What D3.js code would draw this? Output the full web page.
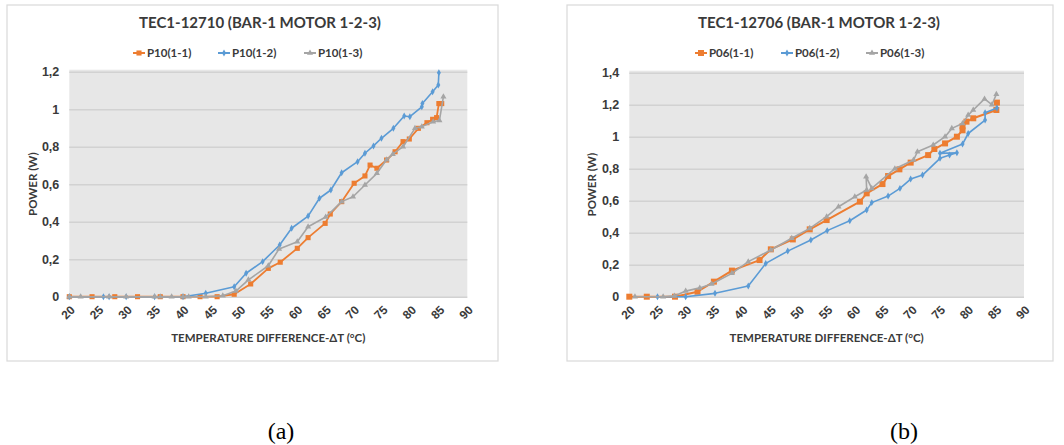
<!DOCTYPE html>
<html>
<head>
<meta charset="utf-8">
<script src="https://cdn.jsdelivr.net/npm/d3@7"></script>
<style>
  body { margin: 0; background: #fff; }
  svg { display: block; font-family: Lato, "Open Sans", sans-serif; }
</style>
</head>
<body>
<script>
// axis ticks
const xTicks = [20, 25, 30, 35, 40, 45, 50, 55, 60, 65, 70, 75, 80, 85, 90];
const yTicksA = [0, 0.2, 0.4, 0.6, 0.8, 1, 1.2];
const yTicksB = [0, 0.2, 0.4, 0.6, 0.8, 1, 1.2, 1.4];

const namesA = ['P10(1-1)', 'P10(1-2)', 'P10(1-3)'];
const namesB = ['P06(1-1)', 'P06(1-2)', 'P06(1-3)'];

// TEC1-12710, [deltaT, power]
const p10_11 = [[20,0],[24,0],[28,0],[32,0],[36,0],[40,0],[43,0],[46,0],[49,0.013],[51.9,0.068],[55,0.151],[57.1,0.184],[60.1,0.258],[62,0.315],[65,0.391],[65.9,0.441],[67.9,0.507],[70.1,0.605],[72,0.644],[72.9,0.702],[74.1,0.685],[75.8,0.729],[77.3,0.773],[78.7,0.827],[79.8,0.841],[81.4,0.898],[82.9,0.928],[83.9,0.946],[84.6,0.955],[85,1.03],[85.5,1.03]];
const p10_12 = [[20,0],[26,0],[27,0],[30,0],[35,0],[40,0],[44,0.018],[49,0.053],[51.1,0.125],[54,0.187],[57,0.276],[59.1,0.365],[62,0.43],[64,0.525],[66,0.569],[67.9,0.661],[70.7,0.72],[72,0.765],[73.5,0.804],[74.9,0.845],[77,0.898],[78.9,0.964],[79.9,0.96],[82,1.013],[82.1,1.03],[83.9,1.093],[84.9,1.129],[85,1.195]];
const p10_13 = [[20,0],[22,0],[27,0],[30,0],[35,0],[36,0],[38,0],[40,0],[41,0],[44,0],[47,0.005],[49.3,0.03],[51.5,0.09],[55,0.165],[56.9,0.255],[60.1,0.293],[62,0.373],[65.1,0.425],[67.9,0.507],[69.9,0.533],[72,0.596],[74.1,0.658],[75.8,0.73],[76.9,0.76],[78.7,0.8],[80.8,0.898],[82,0.907],[84,0.933],[85.1,0.94],[85.8,1.067]];

// TEC1-12706
const p06_11 = [[20,0],[23.1,0],[28.1,0],[32.1,0.031],[35,0.094],[38.2,0.163],[43.1,0.229],[45.1,0.296],[49,0.358],[52,0.421],[55,0.479],[60.9,0.594],[62.1,0.646],[64.9,0.704],[65.9,0.754],[67.9,0.796],[69.9,0.838],[73,0.885],[74.1,0.923],[76,0.958],[78.1,1.0],[79.1,1.04],[79.1,1.065],[79.8,1.094],[81,1.115],[85.1,1.167],[85.2,1.213]];
const p06_12 = [[25,0],[30,0],[35.2,0.021],[41.1,0.067],[44.2,0.208],[48.1,0.285],[52.2,0.354],[55.1,0.413],[59.1,0.475],[62.1,0.542],[63,0.588],[65.9,0.629],[68,0.677],[69.9,0.735],[72,0.76],[75.1,0.865],[76.8,0.885],[78.1,0.9],[75.1,0.896],[79.1,0.954],[80.1,1.02],[83.1,1.104],[83.1,1.15],[85.2,1.18]];
const p06_13 = [[21,0],[26,0],[28,0.005],[30,0.035],[32.5,0.055],[34.6,0.079],[38.2,0.146],[41.1,0.219],[45.1,0.292],[48.8,0.365],[52,0.427],[55,0.5],[57.1,0.5625],[60,0.625],[62.1,0.667],[62,0.75],[63,0.677],[67.1,0.8],[70.4,0.854],[71.1,0.906],[73.9,0.948],[76,1.0],[77.2,1.052],[79.1,1.083],[80.1,1.135],[81,1.167],[83,1.236],[84.3,1.2],[85.1,1.265]];

const colors = ['#ed7d31', '#5b9bd5', '#a5a5a5'];
const textColor = '#3a3a3a';

const svg = d3.select('body').append('svg')
  .attr('width', 1064)
  .attr('height', 445);

function drawPanel(cfg) {
  const g = svg.append('g');

  // outer chart frame
  g.append('rect')
    .attr('x', cfg.box[0]).attr('y', cfg.box[1])
    .attr('width', cfg.box[2] - cfg.box[0]).attr('height', cfg.box[3] - cfg.box[1])
    .attr('fill', '#fff').attr('stroke', '#d9d9d9').attr('stroke-width', 1.2);

  const x = d3.scaleLinear().domain([20, 90]).range([cfg.left, cfg.right]);
  const y = d3.scaleLinear().domain([0, cfg.yMax]).range([cfg.bottom, cfg.top]);

  g.append('rect')
    .attr('x', cfg.left).attr('y', cfg.top - 2)
    .attr('width', cfg.right - cfg.left).attr('height', cfg.bottom - cfg.top + 3)
    .attr('fill', '#e7e7e7');

  // gridlines + y labels
  const yAxis = g.append('g')
    .attr('transform', `translate(${cfg.left},0)`)
    .call(d3.axisLeft(y).tickValues(cfg.yTicks).tickSize(-(cfg.right - cfg.left)).tickPadding(10)
      .tickFormat(d => d3.format('.1~f')(d).replace('.', ',')));
  yAxis.select('.domain').remove();
  yAxis.selectAll('line').attr('stroke', '#d2d2d2').attr('stroke-width', 1.5);
  yAxis.selectAll('text')
    .attr('fill', textColor).attr('font-size', 12.5).attr('font-weight', 'bold');

  const xAxis = g.append('g')
    .attr('transform', `translate(0,${cfg.bottom})`)
    .call(d3.axisBottom(x).tickValues(xTicks).tickSize(0));
  xAxis.select('.domain').remove();
  xAxis.selectAll('text')
    .attr('x', 0).attr('y', 0).attr('dy', '0.35em')
    .attr('transform', 'translate(3,11) rotate(-45)')
    .attr('text-anchor', 'end')
    .attr('fill', textColor).attr('font-size', 12).attr('font-weight', 'bold');

  // series
  const line = d3.line().x(d => x(d[0])).y(d => y(d[1]));
  cfg.series.forEach((s, i) => {
    g.append('path')
      .datum(s)
      .attr('d', line)
      .attr('fill', 'none')
      .attr('stroke', colors[i])
      .attr('stroke-width', cfg.lineW[i])
      .attr('stroke-linejoin', 'round');
    g.append('g').selectAll('path')
      .data(s)
      .join('path')
      .attr('transform', d => `translate(${x(d[0])},${y(d[1])})`)
      .attr('d', d3.symbol().type(cfg.symbols[i]).size(cfg.symSize[i]))
      .attr('fill', colors[i]);
  });

  // title
  g.append('text')
    .attr('x', cfg.titleX).attr('y', 23)
    .attr('dy', '0.35em')
    .attr('text-anchor', 'middle')
    .attr('fill', textColor).attr('font-size', 15).attr('font-weight', 'bold')
    .text(cfg.title);

  // legend
  cfg.names.forEach((n, i) => {
    const lx = cfg.legendX[i];
    g.append('line')
      .attr('x1', lx).attr('x2', lx + 12).attr('y1', 53).attr('y2', 53)
      .attr('stroke', colors[i]).attr('stroke-width', 2);
    g.append('path')
      .attr('transform', `translate(${lx + 6},53)`)
      .attr('d', d3.symbol().type(cfg.symbols[i]).size(cfg.symSize[i]))
      .attr('fill', colors[i]);
    g.append('text')
      .attr('x', lx + 14).attr('y', 53).attr('dy', '0.35em')
      .attr('fill', textColor).attr('font-size', 11.5).attr('font-weight', 'bold')
      .text(n);
  });

  // axis titles
  g.append('text')
    .attr('transform', `translate(${cfg.yTitleX},${(cfg.top + cfg.bottom) / 2}) rotate(-90)`)
    .attr('text-anchor', 'middle').attr('dy', '0.35em')
    .attr('fill', textColor).attr('font-size', 11.5).attr('font-weight', 'bold')
    .text('POWER (W)');
  g.append('text')
    .attr('x', (cfg.left + cfg.right) / 2).attr('y', 338).attr('dy', '0.35em')
    .attr('text-anchor', 'middle')
    .attr('fill', textColor).attr('font-size', 11.5).attr('font-weight', 'bold')
    .text('TEMPERATURE DIFFERENCE-ΔT (°C)');

  // panel letter under the chart
  svg.append('text')
    .attr('x', cfg.letterX).attr('y', 439)
    .attr('text-anchor', 'middle')
    .attr('font-family', '"Liberation Serif", "Times New Roman", serif')
    .attr('font-size', 24).attr('fill', '#000')
    .text(cfg.letter);
}

drawPanel({
  box: [7, 5, 498, 361],
  left: 69.3, right: 467.3, top: 71.7, bottom: 296.7,
  yMax: 1.2, yTicks: yTicksA,
  title: 'TEC1-12710 (BAR-1 MOTOR 1-2-3)', titleX: 260,
  names: namesA, legendX: [133, 218, 304],
  series: [p10_11, p10_12, p10_13],
  symbols: [d3.symbolSquare, d3.symbolDiamond, d3.symbolTriangle],
  symSize: [26, 14, 16], lineW: [1.8, 1.6, 1.6],
  yTitleX: 33, letter: '(a)', letterX: 281
});

drawPanel({
  box: [567, 5, 1053, 361],
  left: 629.3, right: 1024, top: 72.7, bottom: 296.7,
  yMax: 1.4, yTicks: yTicksB,
  title: 'TEC1-12706 (BAR-1 MOTOR 1-2-3)', titleX: 819,
  names: namesB, legendX: [695, 781, 866],
  series: [p06_11, p06_12, p06_13],
  symbols: [d3.symbolSquare, d3.symbolDiamond, d3.symbolTriangle],
  symSize: [36, 14, 16], lineW: [2, 1.6, 1.6],
  yTitleX: 592, letter: '(b)', letterX: 904
});
</script>
</body>
</html>
